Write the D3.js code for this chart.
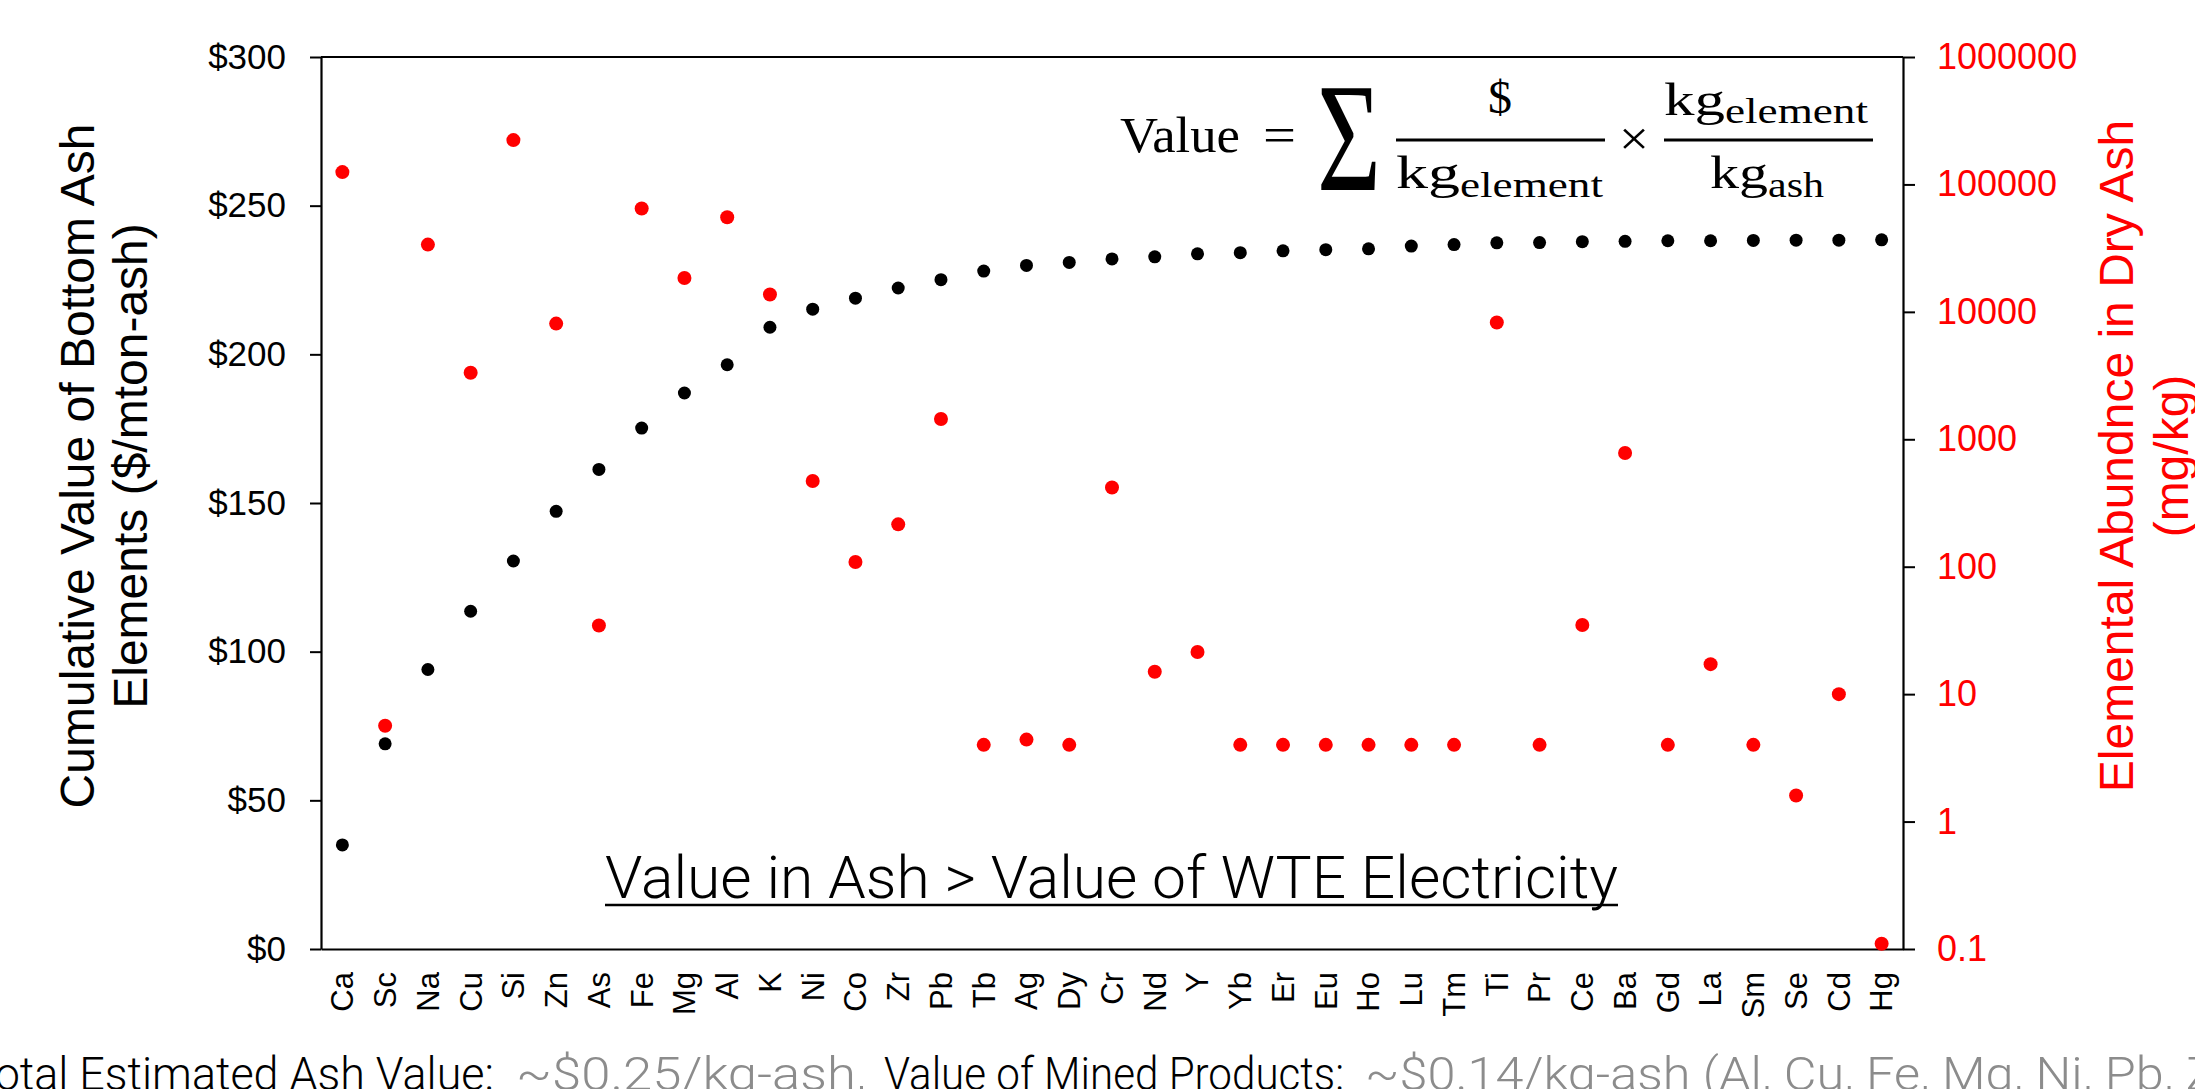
<!DOCTYPE html>
<html>
<head>
<meta charset="utf-8">
<script src="https://cdn.jsdelivr.net/npm/d3@7"></script>
<style>
  body { margin: 0; background: #fff; }
</style>
</head>
<body>
<div id="chart"></div>
<script>
// elements, ordered by contribution to ash value
var elements = ["Ca","Sc","Na","Cu","Si","Zn","As","Fe","Mg","Al","K","Ni","Co","Zr","Pb","Tb","Ag","Dy","Cr","Nd","Y","Yb","Er","Eu","Ho","Lu","Tm","Ti","Pr","Ce","Ba","Gd","La","Sm","Se","Cd","Hg"];

// cumulative value of bottom ash elements ($/mton-ash)
var cumulative = [35, 69, 94, 113.6, 130.5, 147.2, 161.3, 175.2, 187, 196.5, 209.1, 215.2, 218.9, 222.3, 225.1, 228, 229.9, 230.9, 232.1, 232.8, 233.8, 234.2, 234.8, 235.2, 235.5, 236.4, 236.9, 237.5, 237.6, 237.9, 238, 238.2, 238.2, 238.3, 238.4, 238.4, 238.5];

// elemental abundance in dry ash (mg/kg)
var abundance = [125000, 5.65, 33700, 3330, 222800, 8090, 34.6, 64700, 18460, 55200, 13700, 470, 109, 215, 1443, 4, 4.4, 4, 419, 15, 21.4, 4, 4, 4, 4, 4, 4, 8240, 4, 34.9, 780, 4, 17.2, 4, 1.6, 10, 0.11];

var leftTicks = [0, 50, 100, 150, 200, 250, 300];
var rightTicks = [0.1, 1, 10, 100, 1000, 10000, 100000, 1000000];

var W = 2195, H = 1089;
var plotLeft = 321, plotRight = 1903, plotTop = 57, plotBottom = 949;

var svg = d3.select("#chart")
  .append("svg")
  .attr("width", W)
  .attr("height", H)
  .attr("font-family", "'Liberation Sans', Arial, sans-serif");

// scales
var x = d3.scaleBand()
  .domain(elements)
  .range([plotLeft, plotRight]);

var yL = d3.scaleLinear()
  .domain([0, 300])
  .range([plotBottom, plotTop]);

var yR = d3.scaleLog()
  .domain([0.1, 1000000])
  .range([plotBottom, plotTop]);

function cx(d) { return x(d) + x.bandwidth() / 2; }

// left axis
var gl = svg.append("g")
  .attr("transform", "translate(" + plotLeft + ",0)")
  .call(d3.axisLeft(yL).tickValues(leftTicks).tickFormat(function(d) { return "$" + d; })
    .tickSize(11).tickSizeOuter(0).tickPadding(24));
gl.selectAll("text").attr("font-size", 35).attr("fill", "#000").attr("font-family", "'Liberation Sans', Arial, sans-serif");

// right axis
var gr = svg.append("g")
  .attr("transform", "translate(" + plotRight + ",0)")
  .call(d3.axisRight(yR).tickValues(rightTicks).tickFormat(function(d) { return String(d); })
    .tickSize(12).tickSizeOuter(0).tickPadding(22));
gr.selectAll("text").attr("font-size", 36).attr("fill", "#ff0000").attr("font-family", "'Liberation Sans', Arial, sans-serif");

// bottom axis with rotated element names
var gb = svg.append("g")
  .attr("transform", "translate(0," + plotBottom + ")")
  .call(d3.axisBottom(x).tickSize(0).tickSizeOuter(0));
gb.selectAll("text")
  .attr("transform", "rotate(-90)")
  .attr("x", -23)
  .attr("y", 0)
  .attr("dy", "0.35em")
  .attr("text-anchor", "end")
  .attr("font-size", 31)
  .attr("fill", "#000")
  .attr("font-family", "'Liberation Sans', Arial, sans-serif");

svg.selectAll(".domain").attr("stroke", "#000").attr("stroke-width", 2.2);
svg.selectAll(".tick line").attr("stroke", "#000").attr("stroke-width", 2);

// top border
svg.append("line")
  .attr("x1", plotLeft).attr("x2", plotRight)
  .attr("y1", yL(300)).attr("y2", yL(300))
  .attr("stroke", "#000")
  .attr("stroke-width", 2);

// cumulative value dots
svg.selectAll(".cum")
  .data(elements)
  .enter()
  .append("circle")
  .attr("class", "cum")
  .attr("cx", function(d) { return cx(d); })
  .attr("cy", function(d, i) { return yL(cumulative[i]); })
  .attr("r", 6.5)
  .attr("fill", "#000");

// abundance dots
svg.selectAll(".abund")
  .data(elements)
  .enter()
  .append("circle")
  .attr("class", "abund")
  .attr("cx", function(d) { return cx(d); })
  .attr("cy", function(d, i) { return yR(abundance[i]); })
  .attr("r", 7)
  .attr("fill", "#ff0000");

// left axis title
var tl = svg.append("text")
  .attr("transform", "translate(94,466) rotate(-90)")
  .attr("text-anchor", "middle")
  .attr("font-size", 48)
  .attr("fill", "#000");
tl.append("tspan").attr("x", 0).attr("y", 0).text("Cumulative Value of Bottom Ash");
tl.append("tspan").attr("x", 0).attr("y", 53).text("Elements ($/mton-ash)");

// right axis title
var tr = svg.append("text")
  .attr("transform", "translate(2133,456) rotate(-90)")
  .attr("text-anchor", "middle")
  .attr("font-size", 48)
  .attr("fill", "#ff0000");
tr.append("tspan").attr("x", 0).attr("y", 0).text("Elemental Abundnce in Dry Ash");
tr.append("tspan").attr("x", 0).attr("y", 55).text("(mg/kg)");

// formula
var serif = "'Liberation Serif', 'Times New Roman', serif";
function ftext(px, py, str, size, len) {
  var t = svg.append("text")
    .attr("x", px).attr("y", py)
    .attr("font-family", serif)
    .attr("font-size", size)
    .attr("fill", "#000")
    .text(str);
  if (len) t.attr("textLength", len).attr("lengthAdjust", "spacingAndGlyphs");
  return t;
}
ftext(1120, 152, "Value", 51, 120);
ftext(1263, 152, "=", 51, 33);
ftext(1317, 190, "\u03A3", 154, 64);
ftext(1488, 113, "$", 46, 24);
svg.append("line").attr("x1", 1396).attr("x2", 1605).attr("y1", 140).attr("y2", 140).attr("stroke", "#000").attr("stroke-width", 3);
ftext(1396, 188, "kg", 46, 64);
ftext(1460, 197, "element", 35, 143);
ftext(1619, 155, "\u00D7", 48, 30);
svg.append("line").attr("x1", 1664).attr("x2", 1873).attr("y1", 140).attr("y2", 140).attr("stroke", "#000").attr("stroke-width", 3);
ftext(1664, 115, "kg", 46, 61);
ftext(1725, 123, "element", 35, 143);
ftext(1710, 188, "kg", 46, 58);
ftext(1768, 197, "ash", 35, 56);

// annotation
var light = "Roboto, Lato, 'Open Sans', sans-serif";
svg.append("text")
  .attr("x", 605).attr("y", 898)
  .attr("font-family", light)
  .attr("font-weight", 300)
  .attr("font-size", 60)
  .attr("fill", "#000")
  .attr("textLength", 1013)
  .attr("lengthAdjust", "spacingAndGlyphs")
  .text("Value in Ash > Value of WTE Electricity");
svg.append("line")
  .attr("x1", 605).attr("x2", 1618)
  .attr("y1", 905).attr("y2", 905)
  .attr("stroke", "#000")
  .attr("stroke-width", 2.5);

// bottom note
var note = [
  {s: "Total Estimated Ash Value:", x: -30, len: 524, c: "#000"},
  {s: "~$0.25/kg-ash,", x: 516, len: 350, c: "#8c8c8c"},
  {s: "Value of Mined Products:", x: 884, len: 460, c: "#000"},
  {s: "~$0.14/kg-ash (Al, Cu, Fe, Mg, Ni, Pb, Zn)", x: 1365, len: 895, c: "#8c8c8c"}
];
note.forEach(function(n) {
  svg.append("text")
    .attr("x", n.x).attr("y", 1090)
    .attr("font-family", light)
    .attr("font-weight", 300)
    .attr("font-size", 46)
    .attr("fill", n.c)
    .attr("textLength", n.len)
    .attr("lengthAdjust", "spacingAndGlyphs")
    .text(n.s);
});
</script>
</body>
</html>
